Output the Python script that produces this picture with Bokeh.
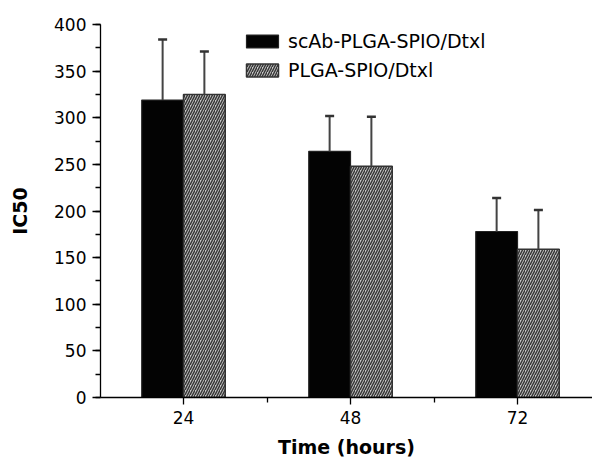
from bokeh.plotting import figure
from bokeh.models import (ColumnDataSource, FixedTicker, Whisker, TeeHead, Legend, LegendItem, Range1d)
from bokeh.embed import file_html
from bokeh.resources import INLINE

# ---- data ----
times = ["24", "48", "72"]
scab_vals = [319, 264, 178]
scab_err = [65, 38, 36]
plga_vals = [325, 248, 159]
plga_err = [46, 53, 42]
series_names = ["scAb-PLGA-SPIO/Dtxl", "PLGA-SPIO/Dtxl"]
y_ticks = [0, 50, 100, 150, 200, 250, 300, 350, 400]

FONT = "DejaVu Sans"
pos = [i + 1 for i in range(len(times))]
off = 0.125
bw = 0.25

src_a = ColumnDataSource(dict(x=[p_ - off for p_ in pos], top=scab_vals,
                              upper=[v + e for v, e in zip(scab_vals, scab_err)]))
src_b = ColumnDataSource(dict(x=[p_ + off for p_ in pos], top=plga_vals,
                              upper=[v + e for v, e in zip(plga_vals, plga_err)]))

p = figure(width=592, height=462, output_backend="svg", toolbar_location=None,
           x_range=Range1d(0.503, 3.449), y_range=Range1d(0, 400),
           min_border_left=100, min_border_right=0, min_border_top=24, min_border_bottom=65)
p.outline_line_color = None
p.xgrid.visible = False
p.ygrid.visible = False
p.background_fill_color = "white"

ra = p.vbar(x="x", top="top", width=bw, bottom=0, source=src_a,
            fill_color="#030303", line_color="#222222", line_width=1.2)
rb = p.vbar(x="x", top="top", width=bw, bottom=0, source=src_b,
            fill_color="#c8c8c8", line_color="#333333", line_width=1.5,
            hatch_pattern="/", hatch_color="#383838", hatch_scale=5, hatch_weight=1.5)

for s in (src_a, src_b):
    w = Whisker(source=s, base="x", upper="upper", lower="top", dimension="height",
                line_color="#444444", line_width=2,
                upper_head=TeeHead(size=9, line_color="#333333", line_width=2.5),
                lower_head=None, level="overlay")
    p.add_layout(w)

# axes
xa = p.xaxis[0]
xa.ticker = FixedTicker(ticks=pos, minor_ticks=[0.5, 1.5, 2.5, 3.5])
xa.major_label_overrides = {pp: t for pp, t in zip(pos, times)}
ya = p.yaxis[0]
ya.ticker = FixedTicker(ticks=y_ticks, minor_ticks=list(range(0, 401, 25)))

for ax in (xa, ya):
    ax.axis_line_color = "black"
    ax.axis_line_width = 1.3
    ax.major_tick_line_color = "black"
    ax.minor_tick_line_color = "black"
    ax.major_tick_line_width = 1.3
    ax.minor_tick_line_width = 1.3
    ax.major_tick_in = 0
    ax.minor_tick_in = 0
    ax.major_label_text_font = FONT
    ax.major_label_text_font_size = "17px"
    ax.major_label_text_color = "black"
    ax.axis_label_text_font = FONT
    ax.axis_label_text_font_size = "19px"
    ax.axis_label_text_font_style = "bold"
    ax.axis_label_text_color = "black"

xa.major_tick_out = 7
xa.minor_tick_out = 5
xa.major_label_standoff = 6
xa.axis_label = "Time (hours)"
xa.axis_label_standoff = 9

ya.major_tick_out = 8
ya.minor_tick_out = 5
ya.major_label_standoff = 6
ya.axis_label = "IC50"
ya.axis_label_standoff = 20

legend = Legend(items=[LegendItem(label=series_names[0], renderers=[ra]),
                       LegendItem(label=series_names[1], renderers=[rb])],
                location=(142, 316), padding=0, margin=0, spacing=7,
                glyph_width=40, glyph_height=16, label_height=16, label_standoff=6,
                label_text_font=FONT, label_text_font_size="19px",
                label_text_color="black",
                border_line_color=None, background_fill_alpha=0)
p.add_layout(legend)

open("out.html", "w").write(file_html(p, INLINE))
